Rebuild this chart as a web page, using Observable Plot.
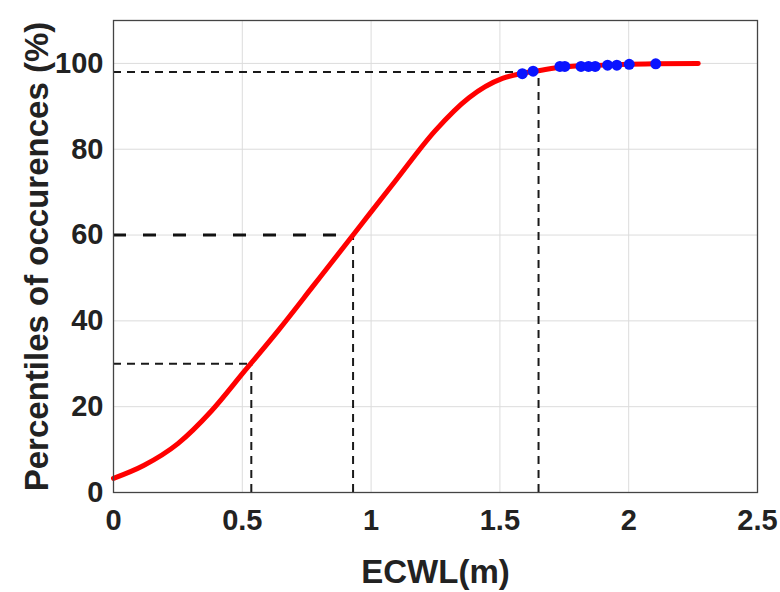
<!DOCTYPE html>
<html>
<head>
<meta charset="utf-8">
<script src="https://cdn.jsdelivr.net/npm/d3@7"></script>
<script src="https://cdn.jsdelivr.net/npm/@observablehq/plot@0.6"></script>
<style>
  html, body { margin: 0; padding: 0; background: #fff; }
</style>
</head>
<body>
<div id="chart"></div>
<script>
// Curve
const curveX = [0, 0.117, 0.25, 0.38, 0.51, 0.64, 0.78, 0.93, 1.0, 1.094, 1.25, 1.38, 1.51, 1.59, 1.65, 1.75, 1.9, 2.0, 2.1, 2.27];
const curveY = [3.3, 6.3, 11.4, 19, 28.4, 37.8, 48.5, 60, 65.4, 72.6, 84.4, 92, 96.5, 97.7, 98.3, 99.2, 99.6, 99.8, 99.9, 100];
// Observed points
const obsX = [1.587, 1.629, 1.733, 1.752, 1.815, 1.844, 1.870, 1.918, 1.954, 2.002, 2.105];
const obsY = [97.6, 98.2, 99.3, 99.3, 99.3, 99.3, 99.3, 99.6, 99.6, 99.8, 99.9];
// Reference percentiles
const refLevel = [30, 60, 98];
const refX = [0.535, 0.93, 1.65];
// Ticks & labels
const xTicks = [0, 0.5, 1, 1.5, 2, 2.5];
const yTicks = [0, 20, 40, 60, 80, 100];
const xLabel = "ECWL(m)";
const yLabel = "Percentiles of occurences (%)";

const curve = curveX.map((x, i) => ({x, y: curveY[i]}));
const obs = obsX.map((x, i) => ({x, y: obsY[i]}));
const refs = refLevel.map((y, i) => ({x: refX[i], y}));

const thin = {stroke: "#1a1a1a", strokeWidth: 2, strokeDasharray: "8,6"};

const chart = Plot.plot({
  width: 780,
  height: 592,
  marginLeft: 113,
  marginRight: 23,
  marginTop: 20,
  marginBottom: 100,
  style: {fontFamily: "'Liberation Sans', Arial, sans-serif", fontWeight: "bold", fontSize: "29px", color: "#222", background: "#fff"},
  x: {domain: [0, 2.5]},
  y: {domain: [0, 110]},
  marks: [
    Plot.gridX(xTicks, {stroke: "#dcdcdc", strokeOpacity: 1, strokeWidth: 1}),
    Plot.gridY(yTicks, {stroke: "#dcdcdc", strokeOpacity: 1, strokeWidth: 1}),
    Plot.axisX({ticks: xTicks, tickFormat: d => String(d), tickSize: 0, tickPadding: 17, label: null}),
    Plot.axisY({ticks: yTicks, tickFormat: d => String(d), tickSize: 0, tickPadding: 10, label: null}),
    // horizontal reference lines
    Plot.ruleY([refs[0]], {y: "y", x1: 0, x2: "x", ...thin}),
    Plot.ruleY([refs[1]], {y: "y", x1: 0, x2: "x", stroke: "#111", strokeWidth: 3, strokeDasharray: "13,17"}),
    Plot.ruleY([refs[2]], {y: "y", x1: 0, x2: "x", ...thin}),
    // vertical reference lines
    Plot.ruleX(refs, {x: "x", y1: 0, y2: "y", ...thin}),
    Plot.line(curve, {x: "x", y: "y", stroke: "#ff0000", strokeWidth: 5, curve: "monotone-x"}),
    Plot.dot(obs, {x: "x", y: "y", r: 5.5, fill: "#0a14ff", stroke: "none"}),
    Plot.frame({stroke: "#444", strokeWidth: 1.3}),
    Plot.text([xLabel], {frameAnchor: "bottom", dy: 80, lineAnchor: "middle", fontSize: 33, fontWeight: "bold", fill: "#222"}),
    Plot.text([yLabel], {frameAnchor: "left", dx: -76, rotate: -90, lineAnchor: "middle", textAnchor: "middle", fontSize: 33, fontWeight: "bold", fill: "#222"})
  ]
});
document.getElementById("chart").appendChild(chart);
</script>
</body>
</html>
